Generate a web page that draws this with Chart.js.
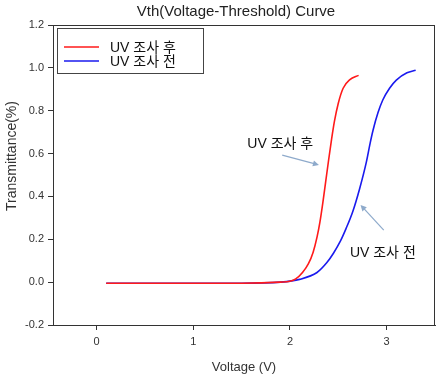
<!DOCTYPE html>
<html>
<head>
<meta charset="utf-8">
<script src="https://cdn.jsdelivr.net/npm/chart.js@4"></script>
<style>
html, body { margin: 0; padding: 0; background: #fff; }
#wrap { width: 438px; height: 379px; position: relative; }
</style>
</head>
<body>
<div id="wrap"><canvas id="vthChart" width="438" height="379"></canvas></div>
<script>
// Dữ liệu
const afterX = [0.1, 0.5, 1.0, 1.5, 1.9, 2.0, 2.06, 2.13, 2.19, 2.24, 2.28, 2.31, 2.34, 2.37, 2.40, 2.43, 2.46, 2.50, 2.55, 2.62, 2.71];
const afterY = [-0.005, -0.005, -0.005, -0.005, 0.0, 0.004, 0.015, 0.045, 0.085, 0.14, 0.21, 0.28, 0.37, 0.47, 0.57, 0.665, 0.75, 0.835, 0.905, 0.945, 0.965];
const beforeX = [0.1, 0.5, 1.0, 1.5, 1.9, 2.1, 2.28, 2.38, 2.45, 2.52, 2.58, 2.65, 2.72, 2.79, 2.83, 2.86, 2.91, 2.96, 3.03, 3.10, 3.21, 3.30];
const beforeY = [-0.005, -0.005, -0.005, -0.005, 0.0, 0.013, 0.045, 0.09, 0.135, 0.19, 0.25, 0.33, 0.435, 0.56, 0.65, 0.71, 0.79, 0.85, 0.905, 0.943, 0.977, 0.989];
const xTickValues = [0, 1, 2, 3];
const yTickValues = [-0.2, 0.0, 0.2, 0.4, 0.6, 0.8, 1.0, 1.2];
const seriesLabels = ['UV 조사 후', 'UV 조사 전'];
const seriesColors = ['#ff1a1a', '#1a1aee'];
const titleText = 'Vth(Voltage-Threshold) Curve';
const yTitleText = 'Transmittance(%)';
const xTitleText = 'Voltage (V)';
// chú thích: vị trí chữ và mũi tên theo toạ độ dữ liệu
const notes = [
  { text: 'UV 조사 후', x: 1.90, y: 0.645, align: 'center', from: [1.92, 0.593], to: [2.30, 0.547] },
  { text: 'UV 조사 전', x: 2.62, y: 0.136, align: 'left', from: [2.97, 0.243], to: [2.73, 0.36] }
];

const FONT = "'Liberation Sans', Arial, 'Noto Sans CJK KR', sans-serif";

function toPoints(xs, ys) {
  return xs.map((x, i) => ({ x: x, y: ys[i] }));
}

const decorPlugin = {
  id: 'decor',
  afterDraw(chart) {
    const ctx = chart.ctx;
    const a = chart.chartArea;
    const xs = chart.scales.x, ys = chart.scales.y;
    ctx.save();
    // khung
    ctx.strokeStyle = '#333';
    ctx.lineWidth = 1;
    ctx.strokeRect(Math.round(a.left) + 0.5, Math.round(a.top) + 0.5, Math.round(a.right - a.left) - 1, Math.round(a.bottom - a.top));
    // tiêu đề
    ctx.fillStyle = '#222';
    ctx.font = '15px ' + FONT;
    ctx.textAlign = 'center';
    ctx.textBaseline = 'middle';
    ctx.fillText(titleText, 236, 12);
    // tiêu đề trục y
    ctx.save();
    ctx.translate(12, 156);
    ctx.rotate(-Math.PI / 2);
    ctx.font = '14px ' + FONT;
    ctx.fillStyle = '#333';
    ctx.fillText(yTitleText, 0, 0);
    ctx.restore();
    // legend
    const lx = Math.round(a.left) + 4, ly = Math.round(a.top) + 3;
    ctx.strokeStyle = '#444';
    ctx.lineWidth = 1;
    ctx.strokeRect(lx + 0.5, ly + 0.5, 146, 45);
    ctx.font = '14px ' + FONT;
    ctx.textAlign = 'left';
    seriesLabels.forEach((lab, i) => {
      const yy = ly + 19 + i * 14;
      ctx.strokeStyle = seriesColors[i];
      ctx.lineWidth = 1.5;
      ctx.beginPath();
      ctx.moveTo(lx + 7, yy);
      ctx.lineTo(lx + 42, yy);
      ctx.stroke();
      ctx.fillStyle = '#111';
      ctx.fillText(lab, lx + 53, yy + 1);
    });
    // chú thích + mũi tên
    notes.forEach(n => {
      ctx.fillStyle = '#111';
      ctx.font = '14px ' + FONT;
      ctx.textAlign = n.align;
      ctx.fillText(n.text, xs.getPixelForValue(n.x), ys.getPixelForValue(n.y));
      const x1 = xs.getPixelForValue(n.from[0]), y1 = ys.getPixelForValue(n.from[1]);
      const x2 = xs.getPixelForValue(n.to[0]), y2 = ys.getPixelForValue(n.to[1]);
      const ang = Math.atan2(y2 - y1, x2 - x1);
      ctx.strokeStyle = '#8eaacb';
      ctx.fillStyle = '#8eaacb';
      ctx.lineWidth = 1.2;
      ctx.beginPath();
      ctx.moveTo(x1, y1);
      ctx.lineTo(x2 - 4 * Math.cos(ang), y2 - 4 * Math.sin(ang));
      ctx.stroke();
      ctx.beginPath();
      ctx.moveTo(x2, y2);
      ctx.lineTo(x2 - 6 * Math.cos(ang) + 3 * Math.sin(ang), y2 - 6 * Math.sin(ang) - 3 * Math.cos(ang));
      ctx.lineTo(x2 - 6 * Math.cos(ang) - 3 * Math.sin(ang), y2 - 6 * Math.sin(ang) + 3 * Math.cos(ang));
      ctx.closePath();
      ctx.fill();
    });
    ctx.restore();
  }
};

new Chart(document.getElementById('vthChart'), {
  type: 'line',
  data: {
    datasets: [
      {
        label: seriesLabels[0],
        data: toPoints(afterX, afterY),
        borderColor: seriesColors[0],
        borderWidth: 1.6,
        pointRadius: 0,
        cubicInterpolationMode: 'monotone',
        fill: false,
        order: 0
      },
      {
        label: seriesLabels[1],
        data: toPoints(beforeX, beforeY),
        borderColor: seriesColors[1],
        borderWidth: 1.6,
        pointRadius: 0,
        cubicInterpolationMode: 'monotone',
        fill: false,
        order: 1
      }
    ]
  },
  options: {
    responsive: false,
    animation: false,
    layout: { padding: { top: 25, right: 3, left: 0, bottom: 0 } },
    plugins: {
      legend: { display: false },
      title: { display: false },
      tooltip: { enabled: false }
    },
    scales: {
      x: {
        type: 'linear',
        min: -0.45,
        max: 3.5,
        afterBuildTicks: s => { s.ticks = xTickValues.map(v => ({ value: v })); },
        afterFit: s => { s.height = 54; },
        grid: { drawOnChartArea: false, drawTicks: true, tickLength: 5, color: '#333' },
        border: { display: true, color: '#333' },
        ticks: { color: '#333', font: { size: 11, family: FONT }, padding: 5, callback: v => String(v) },
        title: { display: true, text: xTitleText, color: '#333', font: { size: 13, family: FONT }, padding: { top: 0, bottom: 4 } }
      },
      y: {
        type: 'linear',
        min: -0.2,
        max: 1.2,
        afterBuildTicks: s => { s.ticks = yTickValues.map(v => ({ value: v })); },
        afterFit: s => { s.width = 53; },
        grid: { drawOnChartArea: false, drawTicks: true, tickLength: 5, color: '#333' },
        border: { display: true, color: '#333' },
        ticks: { color: '#333', font: { size: 11, family: FONT }, padding: 4, callback: v => Number(v).toFixed(1) }
      }
    }
  },
  plugins: [decorPlugin]
});
</script>
</body>
</html>
